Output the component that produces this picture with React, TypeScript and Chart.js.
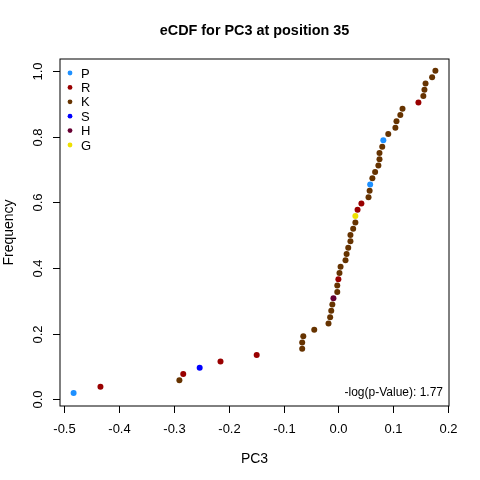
import { useEffect, useRef } from 'react';
import { Chart, registerables } from 'chart.js';
import type { Plugin } from 'chart.js';

Chart.register(...registerables);

// PC3 scores, sorted, and their residue at position 35
const pc3Values = [
  -0.483, -0.434, -0.29, -0.283, -0.253, -0.215, -0.149, -0.066, -0.066, -0.064,
  -0.044, -0.018, -0.015, -0.013, -0.011, -0.009, -0.002, -0.002, 0.0, 0.002,
  0.004, 0.013, 0.015, 0.018, 0.022, 0.022, 0.027, 0.031, 0.031, 0.035,
  0.042, 0.055, 0.057, 0.058, 0.062, 0.067, 0.073, 0.075, 0.075, 0.08,
  0.082, 0.091, 0.104, 0.106, 0.113, 0.117, 0.146, 0.155, 0.157, 0.159,
  0.171, 0.177,
];

const frequencies = [
  0.0192, 0.0385, 0.0577, 0.0769, 0.0962, 0.1154, 0.1346, 0.1538, 0.1731, 0.1923,
  0.2115, 0.2308, 0.25, 0.2692, 0.2885, 0.3077, 0.3269, 0.3462, 0.3654, 0.3846,
  0.4038, 0.4231, 0.4423, 0.4615, 0.4808, 0.5, 0.5192, 0.5385, 0.5577, 0.5769,
  0.5962, 0.6154, 0.6346, 0.6538, 0.6731, 0.6923, 0.7115, 0.7308, 0.75, 0.7692,
  0.7885, 0.8077, 0.8269, 0.8462, 0.8654, 0.8846, 0.9038, 0.9231, 0.9423, 0.9615,
  0.9808, 1.0,
];

const residues = [
  'P', 'R', 'K', 'R', 'S', 'R', 'R', 'K', 'K', 'K',
  'K', 'K', 'K', 'K', 'K', 'H', 'K', 'K', 'R', 'K',
  'K', 'K', 'K', 'K', 'K', 'K', 'K', 'K', 'G', 'R',
  'R', 'K', 'K', 'P', 'K', 'K', 'K', 'K', 'K', 'K',
  'P', 'K', 'K', 'K', 'K', 'K', 'R', 'K', 'K', 'K',
  'K', 'K',
];

const legendLabels = ['P', 'R', 'K', 'S', 'H', 'G'];
const residueColors: Record<string, string> = {
  P: '#1E90FF',
  R: '#990000',
  K: '#663300',
  S: '#0000FF',
  H: '#660033',
  G: '#EEE000',
};

const xTicks = [-0.5, -0.4, -0.3, -0.2, -0.1, 0.0, 0.1, 0.2];
const yTicks = [0.0, 0.2, 0.4, 0.6, 0.8, 1.0];
const pValueText = '-log(p-Value): 1.77';

const FONT = '"Liberation Sans", Arial, sans-serif';

// base-graphics style frame, axes, labels and legend
const rPlotPlugin: Plugin<'scatter'> = {
  id: 'rPlot',
  afterDraw(chart) {
    const { ctx, chartArea } = chart;
    const { left, right, top, bottom } = chartArea;
    const xs = chart.scales.x;
    const ys = chart.scales.y;
    ctx.save();
    ctx.strokeStyle = '#000';
    ctx.fillStyle = '#000';
    ctx.lineWidth = 1;

    ctx.strokeRect(left, top, right - left, bottom - top);

    ctx.font = `13px ${FONT}`;
    ctx.textAlign = 'center';
    ctx.textBaseline = 'alphabetic';
    xTicks.forEach((t) => {
      const px = Math.round(xs.getPixelForValue(t)) + 0.5;
      ctx.beginPath();
      ctx.moveTo(px, bottom);
      ctx.lineTo(px, bottom + 7);
      ctx.stroke();
      ctx.fillText(t.toFixed(1), px, bottom + 27);
    });

    yTicks.forEach((t) => {
      const py = Math.round(ys.getPixelForValue(t)) + 0.5;
      ctx.beginPath();
      ctx.moveTo(left, py);
      ctx.lineTo(left - 7, py);
      ctx.stroke();
      ctx.save();
      ctx.translate(left - 18, py);
      ctx.rotate(-Math.PI / 2);
      ctx.fillText(t.toFixed(1), 0, 0);
      ctx.restore();
    });

    const midX = (left + right) / 2;
    const midY = (top + bottom) / 2;
    ctx.font = `14px ${FONT}`;
    ctx.fillText('PC3', midX, bottom + 57);
    ctx.save();
    ctx.translate(13, midY);
    ctx.rotate(-Math.PI / 2);
    ctx.fillText('Frequency', 0, 0);
    ctx.restore();

    ctx.font = `bold 14.4px ${FONT}`;
    ctx.fillText('eCDF for PC3 at position 35', midX, 35);

    ctx.font = `12px ${FONT}`;
    ctx.textAlign = 'right';
    ctx.fillText(pValueText, right - 6, bottom - 10);

    ctx.font = `13px ${FONT}`;
    ctx.textAlign = 'left';
    ctx.textBaseline = 'middle';
    legendLabels.forEach((lab, i) => {
      const cy = top + 14 + i * 14.4;
      ctx.fillStyle = residueColors[lab];
      ctx.beginPath();
      ctx.arc(left + 10, cy, 2.4, 0, Math.PI * 2);
      ctx.fill();
      ctx.fillStyle = '#000';
      ctx.fillText(lab, left + 21, cy + 1);
    });

    ctx.restore();
  },
};

export default function App() {
  const canvasRef = useRef<HTMLCanvasElement | null>(null);

  useEffect(() => {
    if (!canvasRef.current) {
      return;
    }

    const chart = new Chart(canvasRef.current, {
      type: 'scatter',
      data: {
        datasets: [
          {
            label: 'PC3',
            data: pc3Values.map((x, i) => ({ x, y: frequencies[i] })),
            pointBackgroundColor: residues.map((r) => residueColors[r]),
            pointBorderWidth: 0,
            pointRadius: 3,
            pointHoverRadius: 3,
          },
        ],
      },
      options: {
        animation: false,
        responsive: false,
        events: [],
        layout: { padding: { left: 60, right: 31, top: 59, bottom: 74 } },
        plugins: {
          legend: { display: false },
          title: { display: false },
          tooltip: { enabled: false },
        },
        scales: {
          x: { type: 'linear', display: false, min: -0.5078, max: 0.2018 },
          y: { type: 'linear', display: false, min: -0.0204, max: 1.036 },
        },
      },
      plugins: [rPlotPlugin],
    });

    return () => {
      chart.destroy();
    };
  }, []);

  return (
    <div style={{ position: 'fixed', left: 0, top: 0, width: 480, height: 480, background: '#fff' }}>
      <canvas ref={canvasRef} width={480} height={480} />
    </div>
  );
}
